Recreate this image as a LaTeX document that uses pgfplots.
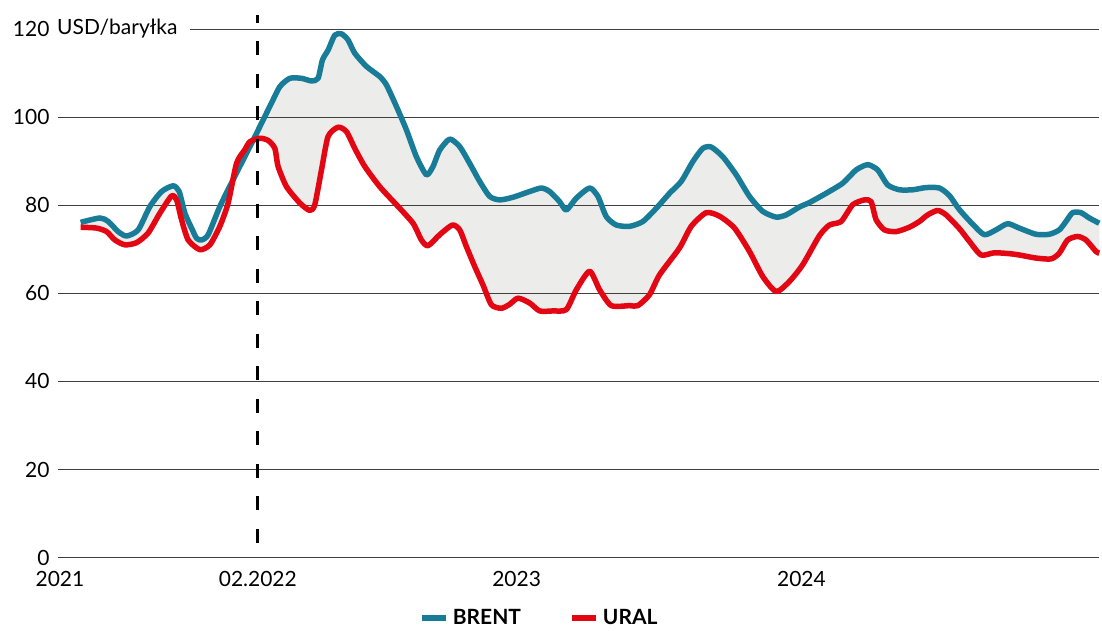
\documentclass[border=0pt]{standalone}
\usepackage{fontspec}
\setmainfont{Lato}
\usepackage{pgfplots}
\usepackage{pgfplotstable}
\pgfplotsset{compat=1.18}
\usepgfplotslibrary{fillbetween}
\definecolor{brent}{RGB}{24,124,153}
\definecolor{ural}{RGB}{227,6,19}
\definecolor{gapfill}{RGB}{65,65,45}
\newcommand{\lbl}{\fontsize{21}{23}\selectfont}
\pgfplotstableread{
x y
80.7 76.1
100 77.1
108.3 76.3
118.3 74.0
126.7 73.0
138.3 74.4
150 79.7
161.7 83.1
173.3 84.4
179.3 83.1
185 78.2
191.7 74.8
196.7 72.5
201.7 72.1
208.3 73.3
220 79.7
233.3 85.8
246.7 91.8
256.7 96.3
271.7 103.2
280 106.9
290 108.8
301.7 108.8
311.7 108.2
318.3 108.8
322.7 113.0
328.3 115.2
335 118.6
341.7 118.9
348.3 117.5
355 114.5
366.7 111.5
380 109.2
386.7 107.3
396.7 102.4
406.7 97.1
416.7 91.0
426.7 86.9
433.3 88.8
440 92.5
450 95.0
460 93.3
470 89.5
480 85.4
490 82.0
500 81.2
513.3 81.8
530 83.1
541.7 83.9
550 83.1
560 80.8
566.7 78.9
576.7 81.6
590 83.9
598.3 82.0
606.7 77.4
616.7 75.5
630 75.2
643.3 76.3
656.7 79.3
670 82.7
681.7 85.4
693.3 89.9
703.3 92.9
711.7 93.2
723.3 91.0
736.7 86.9
750 82.0
763.3 78.6
776.7 77.3
786.7 77.8
800 79.6
810 80.6
826.7 82.7
843.3 85.0
856.7 88.0
868.3 89.2
878.3 88.0
888.3 84.6
900 83.5
913.3 83.5
926.7 84.0
940 83.9
950 82.2
960 79.0
973.3 75.7
985 73.3
996.7 74.4
1008.3 75.8
1020 74.8
1036.7 73.4
1050 73.4
1060 74.4
1066.7 76.3
1073.3 78.3
1081.7 78.3
1090 77.1
1100 75.9
}\brenttab
\pgfplotstableread{
x y
80.7 75.0
96.7 74.8
106.7 74.0
115 72.1
125 71.0
136.7 71.5
148.3 73.7
160 78.2
171.7 82.1
176.7 81.2
181.7 76.7
188.3 72.1
200 69.9
210 71.0
220 75.2
228.3 80.5
236.7 89.5
245 92.6
250 94.4
260 95.2
268.3 94.7
275 92.9
278.3 88.8
286.7 84.2
300 80.5
310 78.8
315 80.1
321.7 88.0
328.3 95.6
338.3 97.7
346.7 96.7
355 92.9
365 88.8
380 84.2
396.7 80.1
413.3 75.9
421.7 72.1
428.3 70.8
440 73.3
452.7 75.5
460 74.4
466.7 70.6
475 66.1
483.3 61.9
491.7 57.4
501.7 56.6
510 57.5
518.3 58.9
530 57.8
540 56.0
553.3 56.0
566.7 56.3
576.7 60.8
590 65.0
600 60.8
611.7 57.2
630 57.2
638.3 57.2
650 59.7
660 64.2
680 70.3
691.7 75.2
706.7 78.3
720 77.5
735 74.8
750 69.5
763.3 63.8
776.7 60.4
790 62.7
803.3 66.5
820 73.1
830 75.5
841.7 76.3
853.3 80.1
865 81.2
871.7 80.8
876.7 76.7
885 74.4
896.7 74.0
910 75.0
920 76.3
928.3 77.8
938.3 78.8
946.7 77.8
960 74.7
970 71.8
981.7 68.7
995 69.2
1010 69.0
1020 68.7
1036.7 68.0
1051.7 67.8
1060 69.1
1068.3 72.1
1078.3 72.9
1086.7 72.1
1096.7 69.5
1100 69.1
}\uraltab
\begin{document}
\begin{tikzpicture}[x=1pt,y=1pt]
\begin{axis}[
  at={(58pt,67pt)}, anchor=south west,
  scale only axis, width=1042pt, height=529pt,
  xmin=58, xmax=1100, ymin=0, ymax=120,
  clip=false,
  axis line style={draw=none},
  major tick length=0pt,
  ytick={0,20,40,60,80,100},
  ymajorgrids,
  grid style={black!75, line width=0.9pt},
  extra y ticks={120}, extra y tick style={grid=none},
  xtick={60,258,517,802},
  xticklabels={2021,02.2022,2023,2024},
  tick label style={font=\lbl},
  yticklabel style={xshift=-5pt},
  xticklabel style={yshift=-10pt},
  /pgf/number format/assume math mode=true,
  legend style={at={(axis cs:416,-13.7)}, anchor=west, draw=none, fill=none,
    legend columns=2, font=\lbl\bfseries,
    /tikz/every odd column/.append style={column sep=2.5pt},
    /tikz/every even column/.append style={column sep=46pt}},
  legend image code/.code={\draw[line width=5.5pt] (0pt,0pt) -- (24pt,0pt);},
]
\addplot[draw=none, smooth, tension=0.4, name path=brent, forget plot] table {\brenttab};
\addplot[draw=none, smooth, tension=0.4, name path=ural, forget plot] table {\uraltab};
\addplot[fill=gapfill, fill opacity=0.1, draw=none, forget plot] fill between[of=brent and ural];
\addplot[brent, line width=5.5pt, smooth, tension=0.4, line join=round] table {\brenttab};
\addplot[ural, line width=5.5pt, smooth, tension=0.4, line join=round] table {\uraltab};
\legend{BRENT,URAL}
\draw[black!75, line width=0.9pt] (axis cs:190,120) -- (axis cs:1100,120);
\node[anchor=west, font=\lbl, inner sep=0pt] at (axis cs:57,120) {USD/baryłka};
\draw[black, line width=3pt, dash pattern=on 14pt off 18.5pt, dash phase=6pt] (axis cs:258,123.2) -- (axis cs:258,0);
\end{axis}
\path (0,0) rectangle (1102,625);
\end{tikzpicture}
\end{document}
